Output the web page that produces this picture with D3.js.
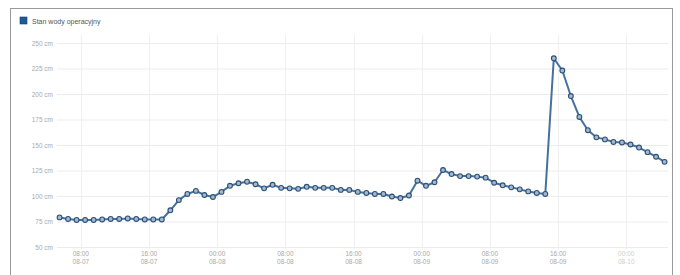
<!DOCTYPE html>
<html>
<head>
<meta charset="utf-8">
<script src="https://cdn.jsdelivr.net/npm/d3@7"></script>
<style>
  html, body { margin: 0; padding: 0; background: #fff; }
  svg { display: block; font-family: "Liberation Sans", Arial, sans-serif; }
</style>
</head>
<body>
<svg id="chart" width="680" height="275"></svg>
<script>
// Stan wody — hourly readings
const seriesName = 'Stan wody operacyjny';
const startTime = new Date(2016, 7, 7, 5, 30);   // first reading, 08-07 05:30
const levels = [
  79, 77.5, 76.5, 76.5, 76.5, 77, 77.5, 77.5, 78, 77.5, 77, 77, 77,
  86, 96, 102, 105, 101, 99, 104, 110, 112.5, 114, 111.5, 107.5,
  111, 108, 107.5, 107, 109, 108, 108, 108, 106, 106, 104, 103,
  102, 102, 99.5, 98, 100.5, 115, 110, 113.5, 125.5, 121.5, 119.5,
  119.5, 119, 118, 113, 110.5, 108.5, 106.5, 104.5, 103, 102,
  235, 223, 198, 177.5, 164.5, 157.5, 155.5, 153, 152.5, 150.5, 147.5, 143, 138.5, 133.5
];
const yTicks = [50, 75, 100, 125, 150, 175, 200, 225, 250];

const data = levels.map((v, i) => ({ t: d3.timeHour.offset(startTime, i), v }));

const svg = d3.select('#chart');
const plotL = 57, plotR = 668, plotT = 43, plotB = 247;

const x = d3.scaleTime()
  .domain([new Date(2016, 7, 7, 5, 12), new Date(2016, 7, 10, 4, 54)])
  .range([plotL, plotR]);
const y = d3.scaleLinear().domain([50, 250]).range([plotB, plotT]);

// frame
svg.append('rect').attr('x', 10.5).attr('y', 8.5).attr('width', 662).attr('height', 290)
  .attr('fill', 'none').attr('stroke', '#9a9a9a').attr('stroke-width', 1);

// legend
svg.append('rect').attr('x', 20).attr('y', 17).attr('width', 7).attr('height', 7)
  .attr('fill', '#1f5a96').attr('stroke', '#163f6b').attr('stroke-width', 0.6);
svg.append('text').attr('x', 32).attr('y', 24).attr('font-size', 7).attr('fill', '#555')
  .text(seriesName);

// horizontal grid + y labels
const yAxis = d3.axisLeft(y).tickValues(yTicks).tickSize(0).tickPadding(4)
  .tickFormat(d => d + ' cm');
svg.append('g').attr('transform', `translate(${plotL},0)`).call(yAxis)
  .call(g => g.select('.domain').remove())
  .call(g => g.selectAll('text').attr('font-size', 6.5).attr('fill', '#aaa')
    .attr('font-family', '"Liberation Sans", Arial, sans-serif'));
svg.append('g').selectAll('line').data(yTicks).join('line')
  .attr('x1', plotL).attr('x2', plotR)
  .attr('y1', d => y(d) + 0.5).attr('y2', d => y(d) + 0.5)
  .attr('stroke', '#ececec');

// vertical grid + two-line x labels
const xTicks = x.ticks(d3.timeHour.every(8));
svg.append('g').selectAll('line').data(xTicks).join('line')
  .attr('x1', d => Math.round(x(d)) + 0.5).attr('x2', d => Math.round(x(d)) + 0.5)
  .attr('y1', plotT - 8).attr('y2', plotB + 2)
  .attr('stroke', '#f0f0f0');
const fmtTime = d3.timeFormat('%H:%M'), fmtDay = d3.timeFormat('%m-%d');
const xl = svg.append('g').selectAll('text').data(xTicks).join('text')
  .attr('x', d => x(d)).attr('y', 256)
  .attr('text-anchor', 'middle').attr('font-size', 6.5)
  .attr('fill', (d, i) => i === xTicks.length - 1 ? '#cfcfcf' : '#a8a8a8');
xl.append('tspan').attr('x', d => x(d)).text(d => fmtTime(d));
xl.append('tspan').attr('x', d => x(d)).attr('dy', 8).text(d => fmtDay(d));

// series
const line = d3.line().x(d => x(d.t)).y(d => y(d.v));
svg.append('path').datum(data).attr('d', line)
  .attr('fill', 'none').attr('stroke', '#44719f').attr('stroke-width', 2)
  .attr('stroke-linejoin', 'round');
svg.append('g').selectAll('circle').data(data).join('circle')
  .attr('cx', d => x(d.t)).attr('cy', d => y(d.v)).attr('r', 2.4)
  .attr('fill', '#9fb8d4').attr('stroke', '#2e4f73').attr('stroke-width', 1.1);
</script>
</body>
</html>
